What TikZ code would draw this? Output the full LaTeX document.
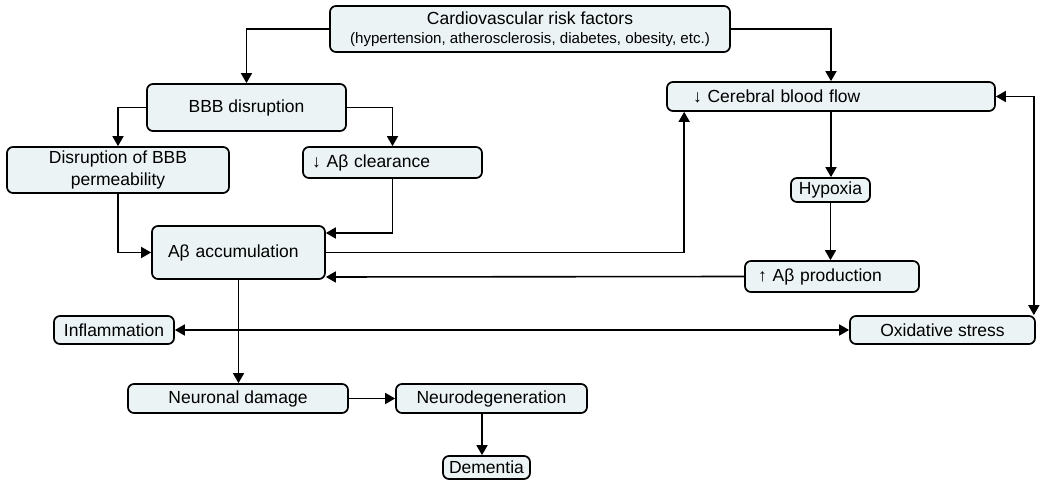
\documentclass[tikz,border=0pt]{standalone}
\usepackage{fontspec}
\setmainfont{Liberation Sans}
\usetikzlibrary{positioning, arrows.meta}
\definecolor{boxfill}{HTML}{EBF3F5}

\begin{document}
\begin{tikzpicture}[
    x=1pt, y=-1pt, % one unit per pixel of the layout, y going down
    % Styles for the boxes and lines
    box/.style={rectangle, draw, fill=boxfill, rounded corners=6pt, line width=1.7pt, inner sep=0pt, align=center, font=\fontsize{17.5}{22}\selectfont},
    leftbox/.style={ % box with the text pushed to the left
        box,
        align=left
    },
    line/.style={
        draw, line width=1.6pt,
        -{Triangle[length=10pt,width=11pt]}
    },
    twoway/.style={ % arrow heads on both ends
        line,
        {Triangle[length=10pt,width=11pt]}-{Triangle[length=10pt,width=11pt]}
    }
]
\useasboundingbox (0,0) rectangle (1050,486);

% Boxes
\node[box, minimum width=400pt, minimum height=46pt] (risk) at (530,29) {Cardiovascular risk factors\\[-3pt]{\fontsize{15.1}{17}\selectfont (hypertension, atherosclerosis, diabetes, obesity, etc.)}};
\node[box, minimum width=199pt, minimum height=47pt] (bbb) at (246.5,107.5) {BBB disruption};
\node[box, minimum width=222pt, minimum height=46pt] (perm) at (118,170) {Disruption of BBB\\permeability};
\node[leftbox, text width=161pt, inner xsep=9pt, minimum height=31pt] (clear) at (392.5,162.5) {↓ Aβ clearance};
\node[leftbox, text width=141pt, inner xsep=16pt, minimum height=53pt] (accum) at (238.5,252.5) {Aβ accumulation};
\node[leftbox, text width=276pt, inner xsep=26pt, minimum height=29pt] (flow) at (831,96.5) {↓ Cerebral blood flow};
\node[box, minimum width=79pt, minimum height=24pt] (hypoxia) at (830.5,190) {Hypoxia};
\node[leftbox, text width=148pt, inner xsep=13pt, minimum height=31pt] (prod) at (832,276.5) {↑ Aβ production};
\node[box, minimum width=120pt, minimum height=28pt] (inflam) at (114,330) {Inflammation};
\node[box, minimum width=185pt, minimum height=28pt] (oxid) at (942.5,330) {Oxidative stress};
\node[box, minimum width=220pt, minimum height=29pt] (damage) at (238,398.5) {Neuronal damage};
\node[box, minimum width=191pt, minimum height=29pt] (degen) at (491.5,398.5) {Neurodegeneration};
\node[box, minimum width=87pt, minimum height=23pt] (dementia) at (486.5,467.5) {Dementia};

% Connectors
\path[line] (risk.west) -| (bbb.north);
\path[line] (risk.east) -| (flow.north);
\path[line] (bbb.west) -| (perm.north);
\path[line] (bbb.east) -| (clear.north);
\path[line] (perm.south) |- (accum.west);
\path[line] (clear.south) |- ([yshift=19.5pt]accum.east);
\path[line] (accum.east) -| ([xshift=18pt]flow.south west);
\path[line] (flow.south) -- (hypoxia.north -| flow.south);
\path[line] (hypoxia.south) -- (prod.north -| hypoxia.south);
\path[line] (prod.west) -- ([yshift=-24.5pt]accum.east);
\path[line] (accum.south) -- (damage.north -| accum.south);
\path[twoway] (inflam.east) -- (oxid.west);
\path[twoway] (flow.east) -| ([xshift=-2pt]oxid.north east);
\path[line] (damage.east) -- (degen.west);
\coordinate (demtop) at ([xshift=-4.5pt]dementia.north);
\path[line] (demtop |- degen.south) -- (demtop);

\end{tikzpicture}
\end{document}
